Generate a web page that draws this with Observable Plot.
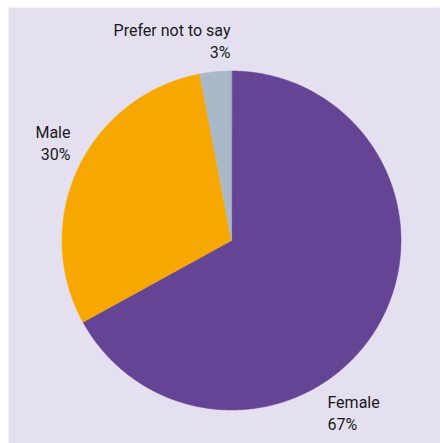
<!DOCTYPE html>
<html>
<head>
<meta charset="utf-8">
<script src="https://cdn.jsdelivr.net/npm/d3@7"></script>
<script src="https://cdn.jsdelivr.net/npm/@observablehq/plot@0.6"></script>
<style>
  html, body { margin: 0; padding: 0; background: #ffffff; }
</style>
</head>
<body>
<div id="chart"></div>
<script>
// Data
const categories = ["Female", "Male", "Prefer not to say"];
const percents = [67, 30, 3];
const labels = ["Female\n67%", "Male\n30%", "Prefer not to say\n3%"];

// Styles / layout (kept separate from data)
const colors = ["#654495", "#f6a800", "#a9b9c8"];
const labelPos = [
  {x: 0.566, y: -1.009, anchor: "start"},
  {x: -0.950, y: 0.584, anchor: "end"},
  {x: -0.006, y: 1.186, anchor: "end"}
];

// Build slice polygons from the data with d3.pie (clockwise from 12 o'clock)
const pie = d3.pie().sort(null).value(d => d.value);
const arcs = pie(categories.map((c, i) => ({category: c, value: percents[i]})));
const pts = [];
arcs.forEach(a => {
  const c = a.data.category;
  pts.push({category: c, x: 0, y: 0});
  const n = Math.max(2, Math.ceil((a.endAngle - a.startAngle) / (Math.PI / 360)));
  for (let k = 0; k <= n; k++) {
    const t = a.startAngle + (a.endAngle - a.startAngle) * k / n;
    pts.push({category: c, x: Math.sin(t), y: Math.cos(t)});
  }
});

const textData = categories.map((c, i) => ({
  category: c, text: labels[i], x: labelPos[i].x, y: labelPos[i].y, anchor: labelPos[i].anchor
}));

const R = 169.5;
const W = 440, H = 443, ML = 8, MT = 7;
const cx = 231, cy = 240;

const chart = Plot.plot({
  width: W,
  height: H,
  marginLeft: ML,
  marginRight: 0,
  marginTop: MT,
  marginBottom: 0,
  x: {domain: [(ML - cx) / R, (W - cx) / R], axis: null},
  y: {domain: [(cy - H) / R, (cy - MT) / R], axis: null},
  color: {domain: categories, range: colors},
  style: {background: "transparent", fontFamily: "Roboto, 'Open Sans', sans-serif"},
  marks: [
    Plot.frame({fill: "#e4e0f0", stroke: null}),
    Plot.line(pts, {x: "x", y: "y", z: "category", fill: "category", stroke: "category", strokeWidth: 0.5, curve: "linear-closed"}),
    ...textData.map(d => Plot.text([d], {
      x: "x", y: "y", text: "text", textAnchor: d.anchor,
      fontSize: 16, lineHeight: 1.38, fill: "#1a1a1a"
    }))
  ]
});

document.getElementById("chart").appendChild(chart);
</script>
</body>
</html>
